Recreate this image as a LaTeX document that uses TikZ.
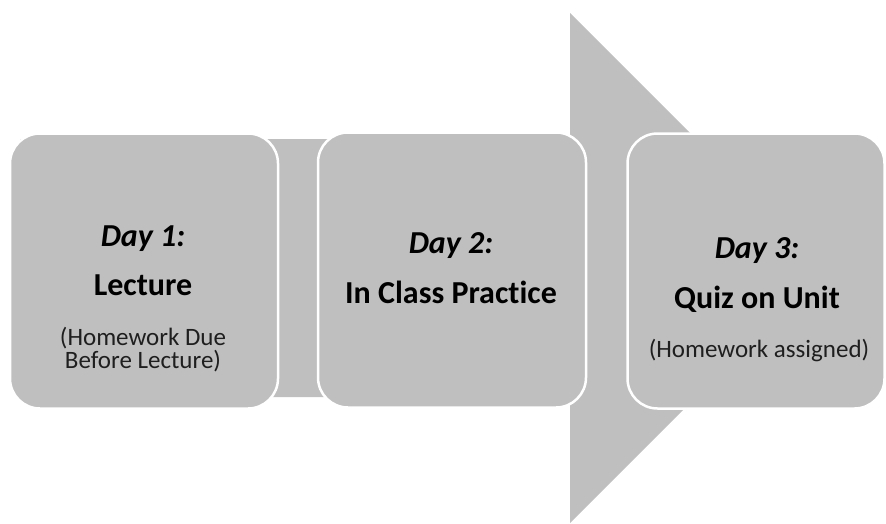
\documentclass[tikz,border=0pt]{standalone}
\usepackage{fontspec}
\setmainfont{Carlito}[Ligatures={NoCommon}]
\definecolor{boxgray}{HTML}{BFBFBF}
\definecolor{subtext}{HTML}{1F1F1F}
\begin{document}
\begin{tikzpicture}[x=1pt,y=-1pt,
  daybox/.style={draw=white, line width=2.5pt, fill=boxgray,
    rounded corners=30pt, inner sep=0pt, minimum height=275pt},
  dayhead/.style={anchor=base, inner sep=0pt,
    font=\fontsize{32}{38}\selectfont\bfseries\itshape},
  daytitle/.style={anchor=base, inner sep=0pt,
    font=\fontsize{32}{38}\selectfont\bfseries},
  daynote/.style={anchor=base, inner sep=0pt, text=subtext,
    font=\fontsize{25}{30}\selectfont}]
\useasboundingbox (0,0) rectangle (886,523);

% the big process arrow behind the three steps
\fill[boxgray] (20,139) -- (570,139) -- (570,13) -- (825,268)
  -- (570,523) -- (570,397) -- (20,397) -- cycle;

% step boxes
\node[daybox, minimum width=268pt] (box1) at (144,271) {};
\node[daybox, minimum width=268pt] (box2) at (452,270) {};
\node[daybox, minimum width=257pt] (box3) at (756,271) {};

% Day 1
\node[dayhead]  (h1) at (143,246) {Day 1:};
\node[daytitle] (t1) at (143,295) {Lecture};
\node[daynote]  (n1a) at (143,345) {(Homework Due};
\node[daynote]  (n1b) at (143,368) {Before Lecture)};

% Day 2
\node[dayhead]  (h2) at (451,253) {Day 2:};
\node[daytitle] (t2) at (451,303) {In Class Practice};

% Day 3
\node[dayhead]  (h3) at (757,258) {Day 3:};
\node[daytitle] (t3) at (757,308) {Quiz on Unit};
\node[daynote]  (n3) at (759,357) {(Homework assigned)};
\end{tikzpicture}
\end{document}
